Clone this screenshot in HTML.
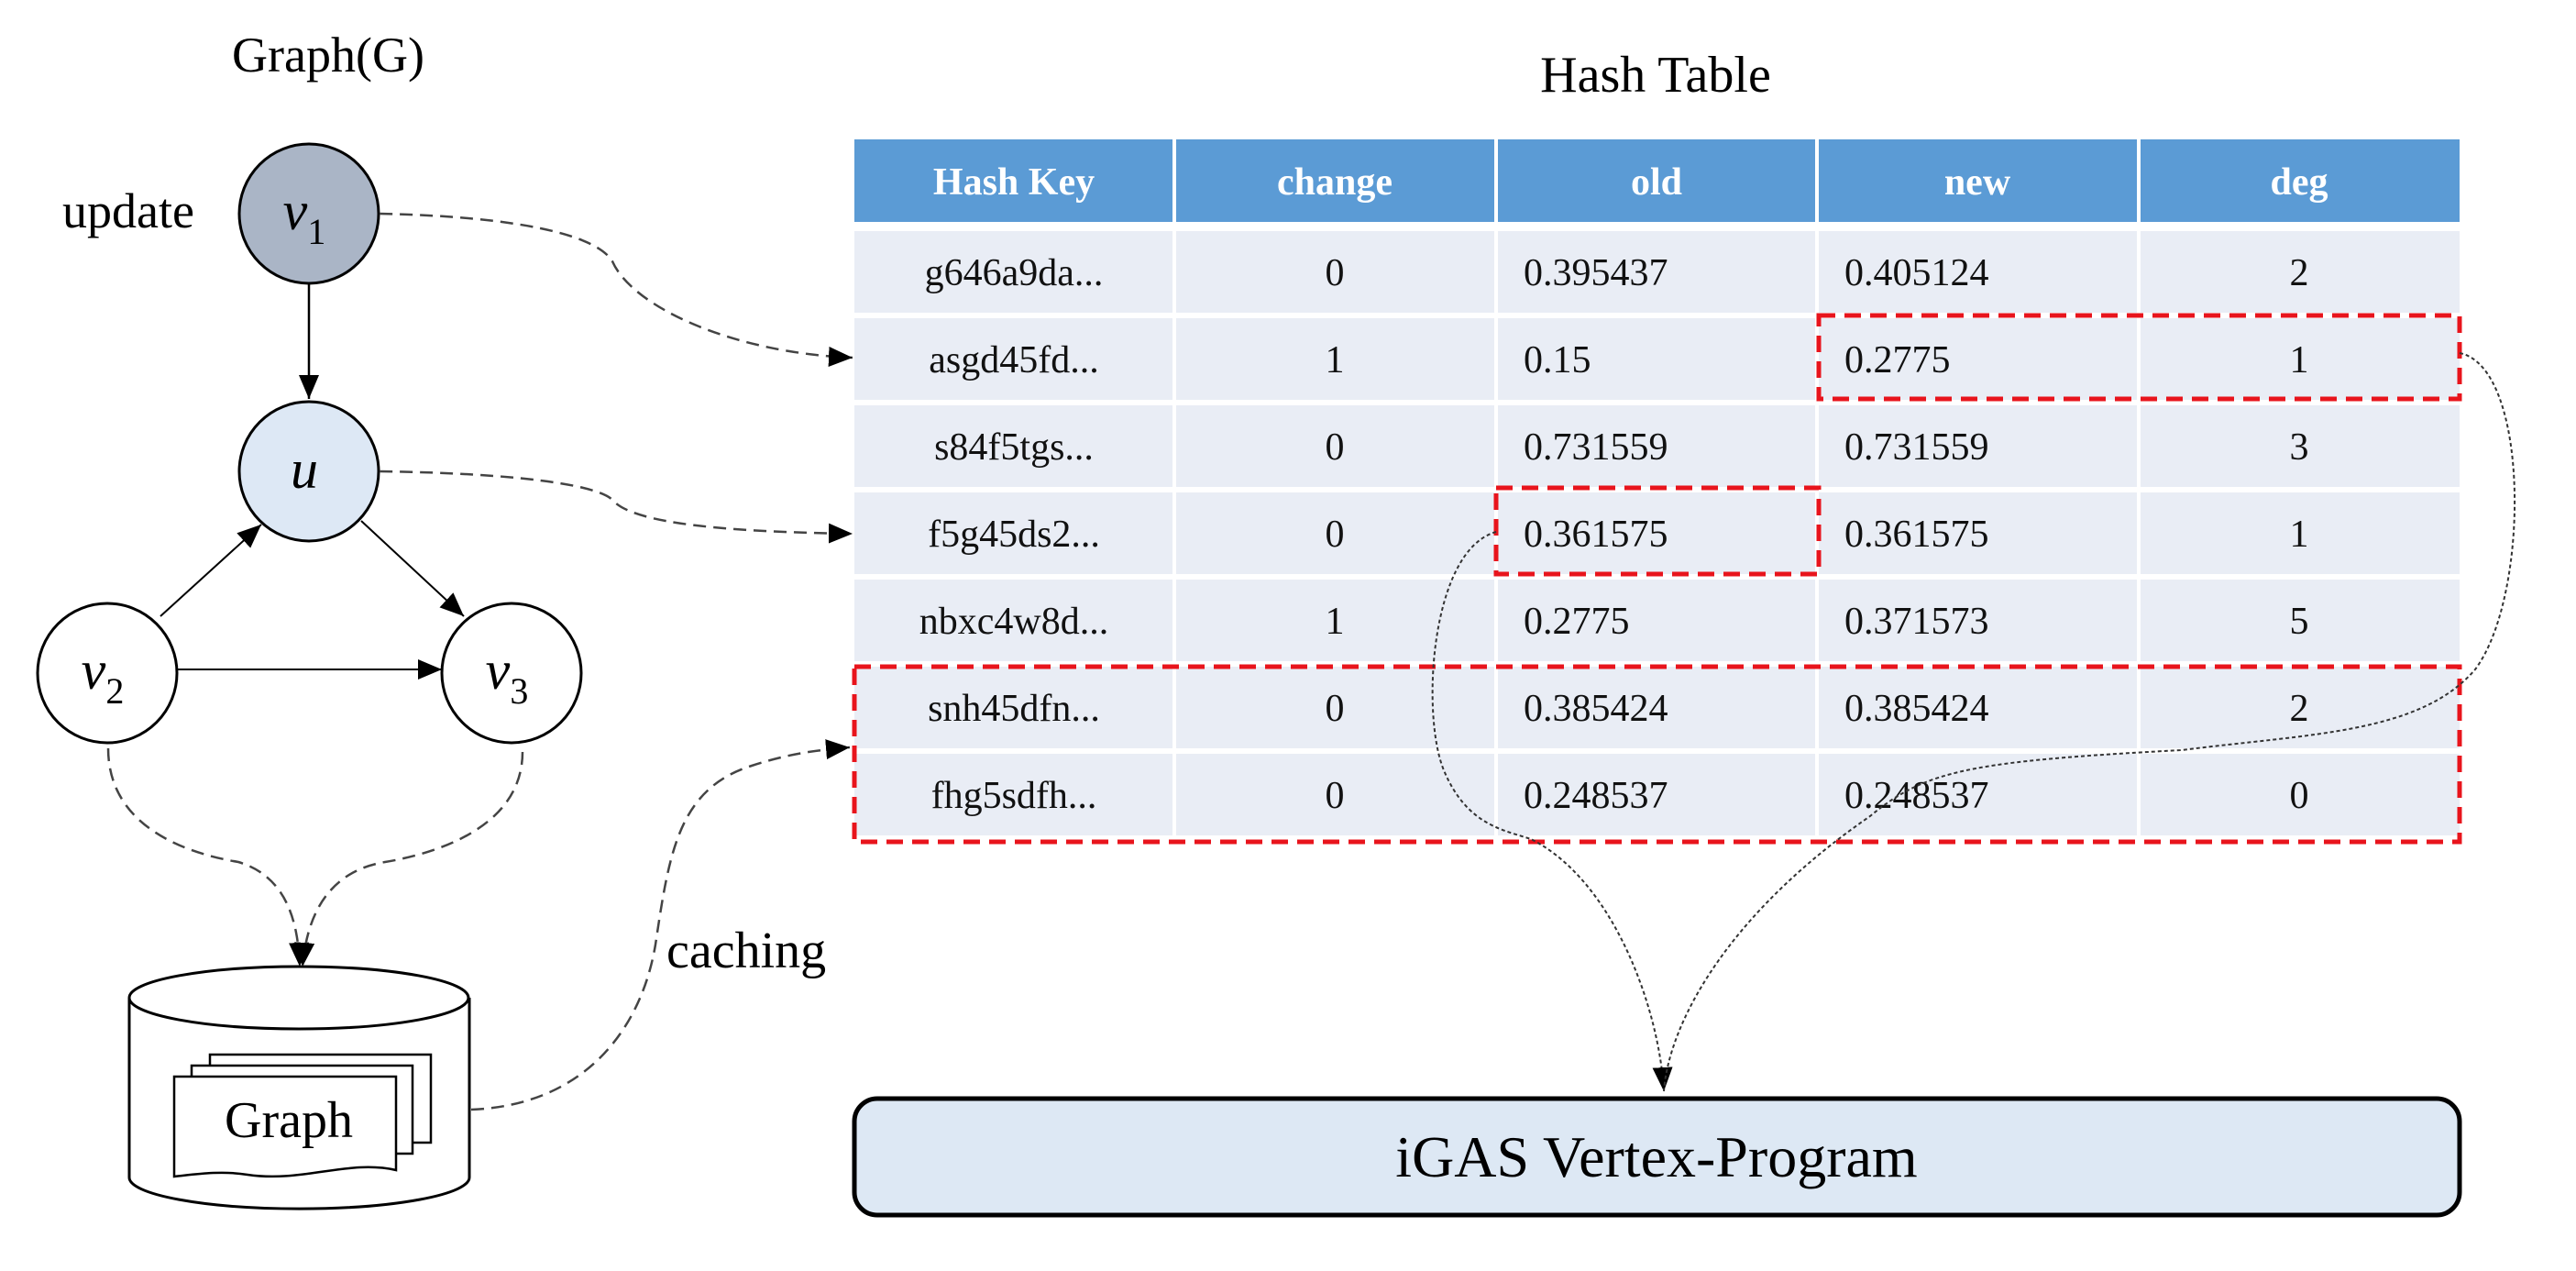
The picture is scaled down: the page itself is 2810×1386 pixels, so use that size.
<!DOCTYPE html>
<html><head><meta charset="utf-8"><style>
html,body{margin:0;padding:0;background:#fff;}
svg{display:block;}
text{font-family:"Liberation Serif",serif;}
</style></head><body>
<svg width="2810" height="1386" viewBox="0 0 2810 1386" xmlns="http://www.w3.org/2000/svg">
<defs>
<marker id="ah2" markerWidth="26" markerHeight="22" refX="26" refY="11" orient="auto" markerUnits="userSpaceOnUse" viewBox="0 0 26 22">
<path d="M0,0 L26,11 L0,22 z" fill="#000"/></marker>
</defs>

<!-- Left graph -->
<text x="358" y="78" font-size="54" text-anchor="middle">Graph(G)</text>
<text x="140" y="248" font-size="54" text-anchor="middle">update</text>

<line x1="337" y1="310" x2="337" y2="435" stroke="#000" stroke-width="2.5" marker-end="url(#ah2)"/>
<line x1="175" y1="672" x2="285" y2="572" stroke="#000" stroke-width="2" marker-end="url(#ah2)"/>
<line x1="394" y1="568" x2="506" y2="672" stroke="#000" stroke-width="2" marker-end="url(#ah2)"/>
<line x1="194" y1="730" x2="482" y2="730" stroke="#000" stroke-width="2" marker-end="url(#ah2)"/>

<circle cx="337" cy="233" r="76" fill="#aab5c6" stroke="#000" stroke-width="3"/>
<text x="332" y="250" font-size="60" text-anchor="middle" font-style="italic">v<tspan font-size="40" font-style="normal" dy="16">1</tspan></text>
<circle cx="337" cy="514" r="76" fill="#dde8f5" stroke="#000" stroke-width="3"/>
<text x="332" y="532" font-size="60" text-anchor="middle" font-style="italic">u</text>
<circle cx="117" cy="734" r="76" fill="#fff" stroke="#000" stroke-width="3"/>
<text x="112" y="751" font-size="60" text-anchor="middle" font-style="italic">v<tspan font-size="40" font-style="normal" dy="16">2</tspan></text>
<circle cx="558" cy="734" r="76" fill="#fff" stroke="#000" stroke-width="3"/>
<text x="553" y="751" font-size="60" text-anchor="middle" font-style="italic">v<tspan font-size="40" font-style="normal" dy="16">3</tspan></text>

<!-- dashed connectors -->
<g fill="none" stroke="#444" stroke-width="2.5" stroke-dasharray="14,8">
<path d="M414,233 C560,236 650,255 668,285 C690,335 800,385 930,390" marker-end="url(#ah2)"/>
<path d="M414,514 C560,516 650,528 668,545 C690,572 800,580 930,582" marker-end="url(#ah2)"/>
<path d="M118,816 C118,900 200,930 260,940 C310,955 325,1000 327,1054" marker-end="url(#ah2)"/>
<path d="M570,820 C570,900 480,930 420,940 C360,950 335,995 330,1054" marker-end="url(#ah2)"/>
<path d="M514,1210 C640,1205 700,1120 715,1030 C730,930 740,860 820,835 C860,822 890,818 927,815" marker-end="url(#ah2)"/>
</g>

<!-- cylinder -->
<path d="M141,1088 L141,1284 A185,34 0 0 0 512,1284 L512,1088" fill="#fff" stroke="#000" stroke-width="3"/>
<ellipse cx="326" cy="1088" rx="185" ry="34" fill="#fff" stroke="#000" stroke-width="3"/>
<rect x="229" y="1150" width="241" height="96" fill="#fff" stroke="#000" stroke-width="2.5"/>
<rect x="209" y="1162" width="241" height="96" fill="#fff" stroke="#000" stroke-width="2.5"/>
<path d="M190,1174 L432,1174 L432,1276 C380,1264 330,1290 270,1281 C240,1276 210,1281 190,1283 Z" fill="#fff" stroke="#000" stroke-width="2.5"/>
<text x="315" y="1240" font-size="56" text-anchor="middle">Graph</text>

<text x="727" y="1055" font-size="56">caching</text>

<!-- Hash table -->
<text x="1806" y="100" font-size="56" text-anchor="middle">Hash Table</text>
<g>
<rect x="932" y="152" width="1751" height="90" fill="#5b9bd5"/>
<g fill="#e9edf5">
<rect x="932" y="252" width="1751" height="89"/>
<rect x="932" y="347" width="1751" height="89"/>
<rect x="932" y="442" width="1751" height="89"/>
<rect x="932" y="537" width="1751" height="89"/>
<rect x="932" y="632" width="1751" height="89"/>
<rect x="932" y="727" width="1751" height="89"/>
<rect x="932" y="822" width="1751" height="89"/>
</g>
<g stroke="#fff" stroke-width="4">
<line x1="1281" y1="152" x2="1281" y2="915"/>
<line x1="1632" y1="152" x2="1632" y2="915"/>
<line x1="1982" y1="152" x2="1982" y2="915"/>
<line x1="2333" y1="152" x2="2333" y2="915"/>
</g>
</g>
<g font-size="42" font-weight="bold" fill="#fff" text-anchor="middle">
<text x="1106" y="212">Hash Key</text><text x="1456" y="212">change</text><text x="1807" y="212">old</text><text x="2157" y="212">new</text><text x="2508" y="212">deg</text>
</g>
<g font-size="42" fill="#111">
<g text-anchor="middle">
<text x="1106" y="311">g646a9da...</text><text x="1456" y="311">0</text><text x="2508" y="311">2</text>
<text x="1106" y="406">asgd45fd...</text><text x="1456" y="406">1</text><text x="2508" y="406">1</text>
<text x="1106" y="501">s84f5tgs...</text><text x="1456" y="501">0</text><text x="2508" y="501">3</text>
<text x="1106" y="596">f5g45ds2...</text><text x="1456" y="596">0</text><text x="2508" y="596">1</text>
<text x="1106" y="691">nbxc4w8d...</text><text x="1456" y="691">1</text><text x="2508" y="691">5</text>
<text x="1106" y="786">snh45dfn...</text><text x="1456" y="786">0</text><text x="2508" y="786">2</text>
<text x="1106" y="881">fhg5sdfh...</text><text x="1456" y="881">0</text><text x="2508" y="881">0</text>
</g>
<text x="1662" y="311">0.395437</text><text x="2012" y="311">0.405124</text>
<text x="1662" y="406">0.15</text><text x="2012" y="406">0.2775</text>
<text x="1662" y="501">0.731559</text><text x="2012" y="501">0.731559</text>
<text x="1662" y="596">0.361575</text><text x="2012" y="596">0.361575</text>
<text x="1662" y="691">0.2775</text><text x="2012" y="691">0.371573</text>
<text x="1662" y="786">0.385424</text><text x="2012" y="786">0.385424</text>
<text x="1662" y="881">0.248537</text><text x="2012" y="881">0.248537</text>
</g>

<!-- red dashed boxes -->
<g fill="none" stroke="#e8141c" stroke-width="5" stroke-dasharray="18,10">
<rect x="1984" y="344" width="699" height="91"/>
<rect x="1632" y="532" width="352" height="94"/>
<rect x="932" y="727" width="1751" height="191"/>
</g>

<!-- dotted curves to iGAS -->
<g fill="none" stroke="#333" stroke-width="2" stroke-dasharray="4,3">
<path d="M1632,580 C1560,600 1550,780 1575,840 C1600,900 1640,905 1670,915 C1760,960 1810,1100 1815,1190" marker-end="url(#ah2)"/>
<path d="M2683,385 C2760,400 2760,650 2700,730 C2640,800 2520,800 2380,818 C2150,830 2100,840 2040,890 C1880,1000 1820,1120 1815,1190"/>
</g>

<!-- iGAS box -->
<rect x="932" y="1198" width="1751" height="127" rx="25" fill="#dde8f4" stroke="#000" stroke-width="5"/>
<text x="1807" y="1283" font-size="64" text-anchor="middle">iGAS Vertex-Program</text>
</svg>
</body></html>
